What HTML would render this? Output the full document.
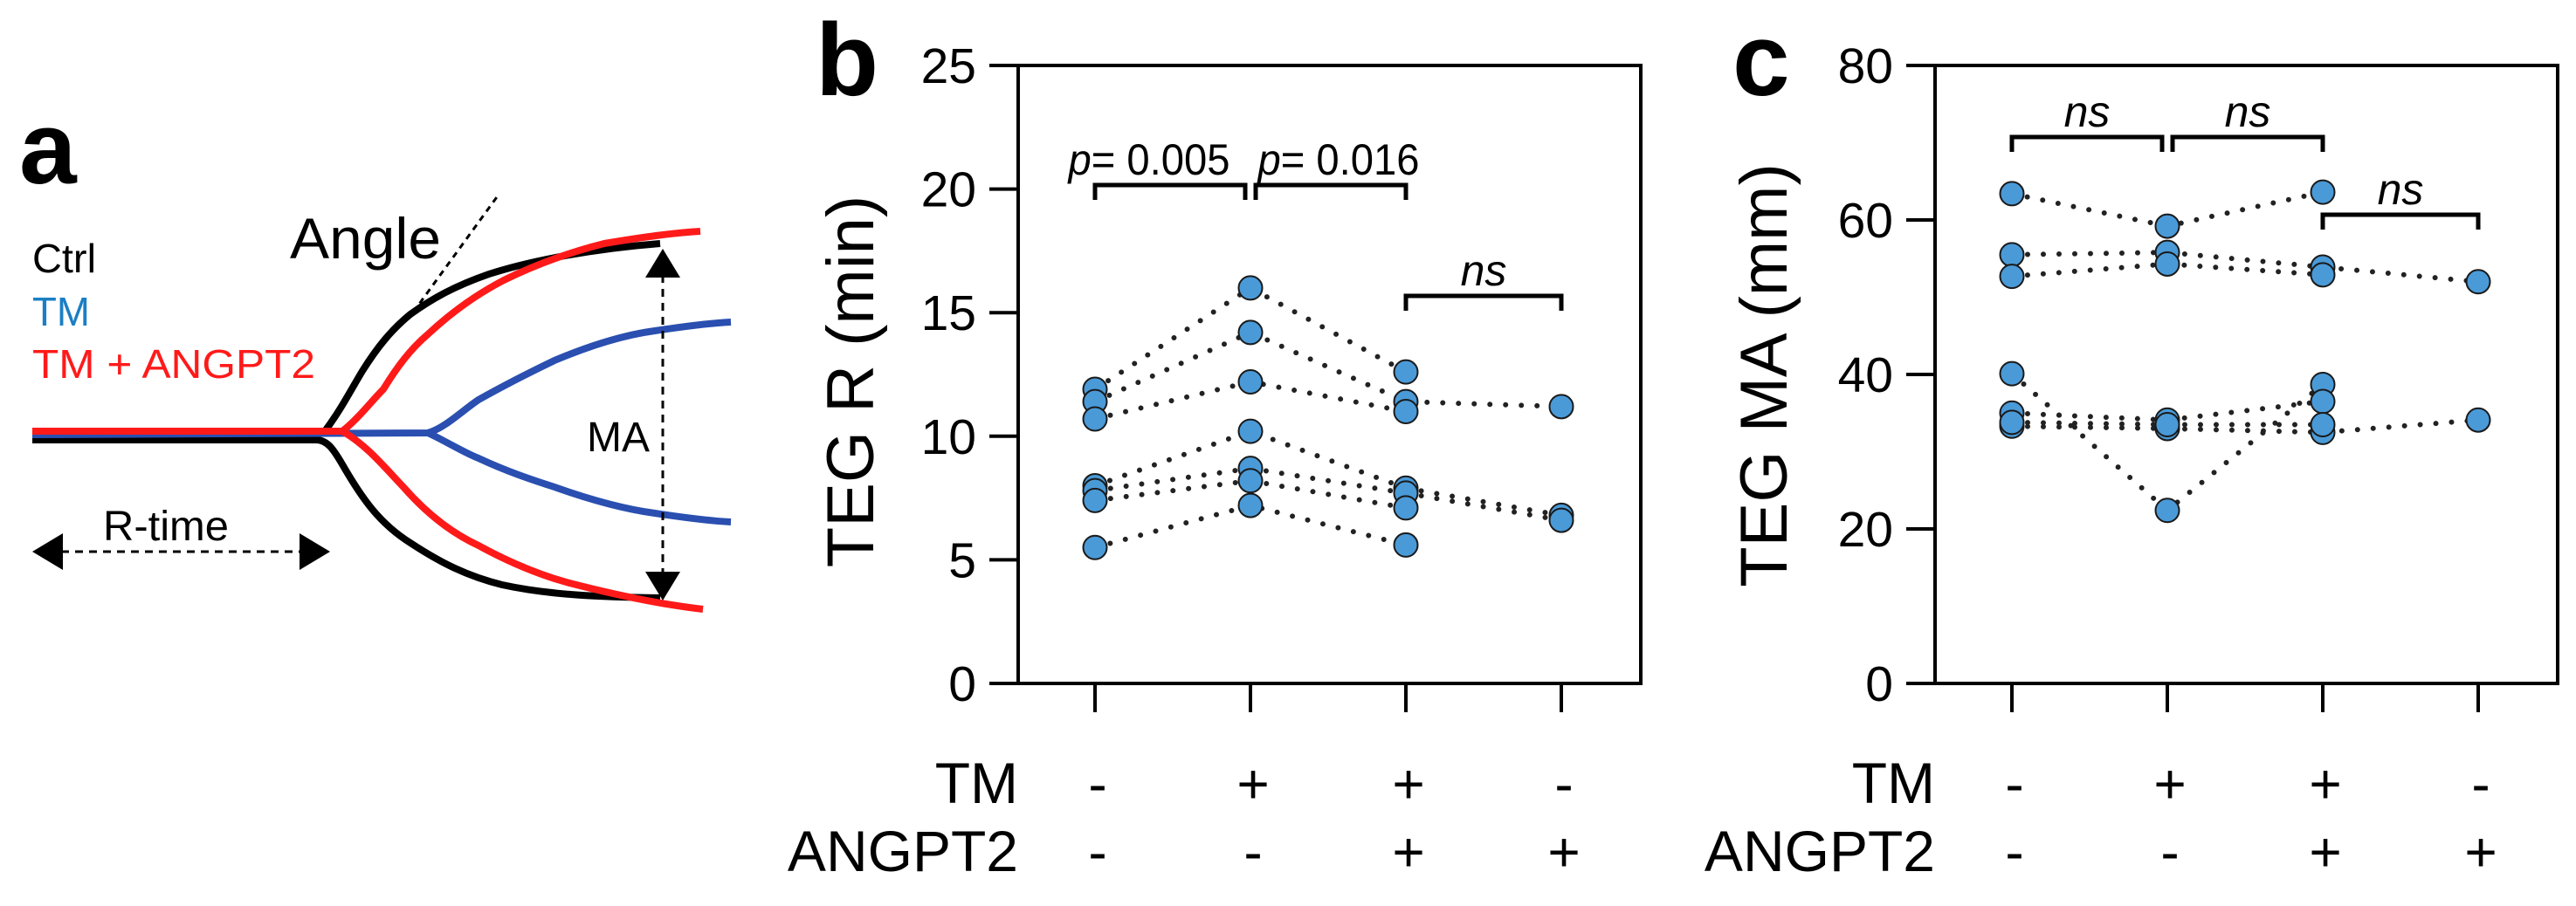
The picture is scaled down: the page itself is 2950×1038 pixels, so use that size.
<!DOCTYPE html>
<html><head><meta charset="utf-8"><style>
html,body{margin:0;padding:0;background:#fff;}
svg{display:block;font-family:"Liberation Sans",Arial,sans-serif;}
</style></head><body>
<svg id="fig" width="2950" height="1038" viewBox="0 0 2950 1038">
<g id="panelA">
<text x="22" y="210" font-size="118" font-weight="bold">a</text>
<text x="37" y="312" font-size="46" textLength="73" lengthAdjust="spacingAndGlyphs" fill="#000">Ctrl</text>
<text x="37" y="373" font-size="46" textLength="66" lengthAdjust="spacingAndGlyphs" fill="#1a7fc4">TM</text>
<text x="37" y="433" font-size="46" textLength="324" lengthAdjust="spacingAndGlyphs" fill="#ff1a1a">TM + ANGPT2</text>
<text x="332" y="296" font-size="66" textLength="173" lengthAdjust="spacingAndGlyphs">Angle</text>
<line x1="473" y1="358" x2="571" y2="223" stroke="#000" stroke-width="3" stroke-dasharray="7,6"/>
<g fill="none" stroke-width="8" stroke-linecap="butt">
<path d="M37,504 L362,504 C375,504 382,515 392,532 C415,572 435,600 470,622 C505,645 535,660 575,670 C630,682 690,684 756,685" stroke="#000"/>
<path d="M372,494 C390,470 400,450 415,425 C432,398 448,378 470,360 C495,342 520,328 560,314 C610,298 680,285 756,279" stroke="#000"/>
<path d="M37,498 L490,496 C510,490 530,470 548,458 C580,440 610,425 635,413 C680,394 720,383 750,379 C790,373 815,370 837,369" stroke="#2a4fb0"/>
<path d="M490,496 C510,505 530,518 548,525 C580,540 610,550 635,558 C680,574 720,584 750,588 C790,594 815,597 837,598" stroke="#2a4fb0"/>
<path d="M37,494 L392,494 C410,480 425,460 439,446 C455,420 470,400 490,383 C520,355 550,335 577,321 C620,300 660,287 692,279 C740,271 770,267 802,265" stroke="#ff1a1a"/>
<path d="M392,494 C420,510 440,535 462,558 C490,590 520,612 548,625 C590,648 630,663 664,671 C720,685 770,694 805,698" stroke="#ff1a1a"/>
</g>
<line x1="759" y1="315" x2="759" y2="658" stroke="#000" stroke-width="3" stroke-dasharray="9,7"/>
<polygon points="759,285 739,318 779,318" fill="#000"/>
<polygon points="759,688 739,655 779,655" fill="#000"/>
<text x="672" y="517" font-size="48" textLength="72" lengthAdjust="spacingAndGlyphs">MA</text>
<line x1="70" y1="632" x2="345" y2="632" stroke="#000" stroke-width="3" stroke-dasharray="9,7"/>
<polygon points="37,632 72,611 72,653" fill="#000"/>
<polygon points="378,632 343,611 343,653" fill="#000"/>
<text x="118" y="619" font-size="48" textLength="144" lengthAdjust="spacingAndGlyphs">R-time</text>
</g>
<g id="panelB"></g>
<g id="panelC"></g>
</svg>
<script>
const groupLabelsTM = ["-", "+", "+", "-"];
const groupLabelsANG = ["-", "-", "+", "+"];
const rTicks = [0, 5, 10, 15, 20, 25];
const rS1 = [11.9, 16.0, 12.6, null];
const rS2 = [11.4, 14.2, 11.4, 11.2];
const rS3 = [10.7, 12.2, 11.0, null];
const rS4 = [8.0, 10.2, 7.9, 6.8];
const rS5 = [7.8, 8.7, 7.7, 6.6];
const rS6 = [7.4, 8.2, 7.1, null];
const rS7 = [5.5, 7.2, 5.6, null];
const maTicks = [0, 20, 40, 60, 80];
const maS1 = [63.4, 59.2, 63.6, null];
const maS2 = [55.5, 55.8, 53.9, 52.0];
const maS3 = [52.7, 54.3, 52.9, null];
const maS4 = [40.1, 22.4, 38.7, null];
const maS5 = [35.0, 34.1, 36.5, null];
const maS6 = [33.3, 33.0, 32.5, 34.1];
const maS7 = [33.8, 33.5, 33.5, null];

const NS = "http://www.w3.org/2000/svg";
function mk(parent, tag, attrs, text) {
  const e = document.createElementNS(NS, tag);
  for (const k in attrs) e.setAttribute(k, attrs[k]);
  if (text !== undefined) e.textContent = text;
  parent.appendChild(e);
  return e;
}
function panel(gid, cfg) {
  const g = document.getElementById(gid);
  const L = cfg.left, R = cfg.left + 713, T = 75, B = 783;
  const y = v => B - (v - cfg.min) / (cfg.max - cfg.min) * (B - T);
  const xs = [L + 88, L + 266, L + 444, L + 622];
  const x = i => xs[i];
  let e;
  e = mk(g, "text", {x: cfg.left - 232, y: 109, "font-size": 118, "font-weight": "bold"}, cfg.letter);
  
  
  e = mk(g, "rect", {x: L, y: T, width: R - L, height: B - T, fill: "none", stroke: "#000", "stroke-width": 4});
  
  
  cfg.ticks.forEach(t => {
    e = mk(g, "line", {x1: L - 33, x2: L, y1: y(t), y2: y(t), stroke: "#000", "stroke-width": 4});
    
    
    e = mk(g, "text", {x: L - 48, y: y(t) + 20, "font-size": 57, "text-anchor": "end"}, t);
    
    
  });
  e = mk(g, "text", {transform: `translate(${cfg.titleX},${cfg.titleY}) rotate(-90)`, "font-size": 76, "text-anchor": "middle"}, cfg.title);
  
  
  for (let i = 0; i < 4; i++) {
    e = mk(g, "line", {x1: x(i), x2: x(i), y1: B, y2: 816, stroke: "#000", "stroke-width": 4});
    
    
    e = mk(g, "text", {x: x(i) + 3, y: 920, "font-size": 64, "text-anchor": "middle"}, groupLabelsTM[i]);
    
    
    e = mk(g, "text", {x: x(i) + 3, y: 998, "font-size": 64, "text-anchor": "middle"}, groupLabelsANG[i]);
    
    
  }
  e = mk(g, "text", {x: L, y: 920, "font-size": 66, "text-anchor": "end"}, "TM");
  
  
  e = mk(g, "text", {x: L, y: 998, "font-size": 66, "text-anchor": "end"}, "ANGPT2");
  
  
  cfg.series.forEach(s => {
    let pts = [];
    s.forEach((v, i) => { if (v !== null) pts.push(x(i) + "," + y(v)); });
    e = mk(g, "polyline", {points: pts.join(" "), fill: "none", stroke: "#222", "stroke-width": 6, "stroke-dasharray": "0 18", "stroke-linecap": "round"});
    
    
  });
  cfg.series.forEach(s => s.forEach((v, i) => {
    if (v === null) return;
    e = mk(g, "circle", {cx: x(i), cy: y(v), r: 13.5, fill: "#4a9ad8", stroke: "#1a1a1a", "stroke-width": 2});
    
    
  }));
  cfg.brackets.forEach(b => {
    const x1 = x(b.a) + (b.a === 1 ? 6 : 0), x2 = x(b.b) - (b.b === 1 ? 6 : 0);
    e = mk(g, "path", {d: `M${x1},${b.y + 17} V${b.y} H${x2} V${b.y + 17}`, fill: "none", stroke: "#000", "stroke-width": 5});
    
    
    const t = mk(g, "text", {x: (x1 + x2) / 2 + (b.shift || 0), y: b.y - 12, "font-size": 50, "text-anchor": "middle"});
    
    
    if (b.label === "ns") {
      t.setAttribute("font-style", "italic");
      t.textContent = "ns";
    } else {
      t.setAttribute("textLength", 185);
      t.setAttribute("lengthAdjust", "spacingAndGlyphs");
      mk(t, "tspan", {"font-style": "italic"}, "p");
      mk(t, "tspan", {}, "= " + b.label);
    }
  });
}
panel("panelB", {left: 1166, min: 0, max: 25, ticks: rTicks, letter: "b", title: "TEG R (min)", titleX: 1000, titleY: 437,
  series: [rS1, rS2, rS3, rS4, rS5, rS6, rS7],
  brackets: [{a: 0, b: 1, y: 212, label: "0.005", shift: -24}, {a: 1, b: 2, y: 212, label: "0.016", shift: 9}, {a: 2, b: 3, y: 339, label: "ns"}]});
panel("panelC", {left: 2216, min: 0, max: 80, ticks: maTicks, letter: "c", title: "TEG MA (mm)", titleX: 2046, titleY: 430,
  series: [maS1, maS2, maS3, maS4, maS5, maS6, maS7],
  brackets: [{a: 0, b: 1, y: 157, label: "ns"}, {a: 1, b: 2, y: 157, label: "ns"}, {a: 2, b: 3, y: 246, label: "ns"}]});
</script>
</body></html>
